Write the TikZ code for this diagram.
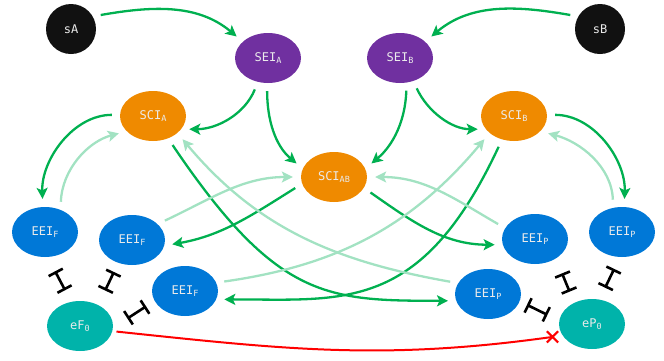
\documentclass[tikz,border=0pt]{standalone}
\usepackage{fontspec}
\setmonofont{DejaVu Sans Mono}
\usetikzlibrary{shapes.geometric,shapes.misc,arrows.meta}

\definecolor{srcblack}{HTML}{111111}
\definecolor{seipurple}{HTML}{7030A0}
\definecolor{sciorange}{HTML}{EF8A00}
\definecolor{eeiblue}{HTML}{0078D7}
\definecolor{eteal}{HTML}{00B3AA}
\definecolor{actgreen}{HTML}{00B050}
\definecolor{fbgreen}{HTML}{A2E2C2}
\definecolor{lbltext}{HTML}{EBEBEB}

\newcommand{\lsub}[1]{\raisebox{-2pt}{\fontsize{8.5}{9}\selectfont #1}}

\tikzstyle{blob} = [inner sep=0pt,text=lbltext,font=\ttfamily\fontsize{12}{14}\selectfont]
\tikzstyle{srcnode} = [blob,circle,fill=srcblack,minimum size=50pt]
\tikzstyle{seinode} = [blob,ellipse,fill=seipurple,minimum width=66pt,minimum height=50pt]
\tikzstyle{scinode} = [seinode,fill=sciorange]
\tikzstyle{eeinode} = [seinode,fill=eeiblue]
\tikzstyle{basenode} = [seinode,fill=eteal]
\tikzstyle{act} = [draw=actgreen,line width=2.3pt,-{Stealth[length=11pt,width=11pt,inset=2.5pt]},shorten <=8pt,shorten >=8pt]
\tikzstyle{feedback} = [act,draw=fbgreen]
\tikzstyle{inhib} = [draw=black,line width=2.6pt,{Bar[width=16pt]}-{Bar[width=16pt]}]
\tikzstyle{blockline} = [draw=red,line width=2pt]
\tikzstyle{xmark} = [cross out,draw=red,line width=2.2pt,minimum size=9pt,inner sep=0pt]

\begin{document}
\begin{tikzpicture}[x=1pt,y=1pt]
  \useasboundingbox (0,0) rectangle (664,-360);

  \node[srcnode] (sA) at (71,-29) {sA};
  \node[srcnode] (sB) at (600,-29) {sB};
  \node[seinode] (seiA) at (268,-58) {SEI\lsub{A}};
  \node[seinode] (seiB) at (400,-58) {SEI\lsub{B}};
  \node[scinode] (sciA) at (153,-116) {SCI\lsub{A}};
  \node[scinode] (sciB) at (514,-116) {SCI\lsub{B}};
  \node[scinode] (sciAB) at (334,-177) {SCI\lsub{AB}};
  \node[eeinode] (eeiF1) at (45,-232) {EEI\lsub{F}};
  \node[eeinode] (eeiF2) at (132,-240) {EEI\lsub{F}};
  \node[eeinode] (eeiF3) at (185,-291) {EEI\lsub{F}};
  \node[eeinode] (eeiP1) at (622,-232) {EEI\lsub{P}};
  \node[eeinode] (eeiP2) at (535,-239) {EEI\lsub{P}};
  \node[eeinode] (eeiP3) at (488,-294) {EEI\lsub{P}};
  \node[basenode] (eF0) at (80,-326) {eF\lsub{0}};
  \node[basenode] (eP0) at (592,-324) {eP\lsub{0}};

  \draw[act] (sA.30) to[out=10,in=140] (seiA.147);
  \draw[act] (sB.150) to[out=170,in=40] (seiB.33);
  \draw[act] (seiA.247) to[out=-112,in=0] (sciA.-25);
  \draw[act] (seiA.268) to[out=-90,in=140] (sciAB.165);
  \draw[act] (seiB.285) to[out=-92,in=40] (sciAB.15);
  \draw[act] (seiB.300) to[out=-65,in=180] (sciB.205);
  \draw[act] (sciA.178) to[out=180,in=92] (eeiF1.95);
  \draw[act] (sciB.2) to[out=0,in=88] (eeiP1.85);
  \draw[act] (sciAB.192) to[out=212,in=10] (eeiF2.-10);
  \draw[act] (sciAB.-20) to[out=-35,in=180] (eeiP2.190);
  \draw[act] (sciA.-56) to[out=-56,in=180,out looseness=1.5] (eeiP3.192);
  \draw[act] (sciB.243) to[out=-115,in=0,out looseness=1.5] (eeiF3.-15);

  \draw[feedback] (eeiF1.55) to[out=88,in=195] (sciA.210);
  \draw[feedback] (eeiP1.110) to[out=92,in=-15] (sciB.-30);
  \draw[feedback] (eeiF2.32) to[out=25,in=180] (sciAB.180);
  \draw[feedback] (eeiP2.160) to[out=150,in=0] (sciAB.0);
  \draw[feedback] (eeiF3.15) to[out=8,in=230] (sciB.215);
  \draw[feedback] (eeiP3.160) to[out=170,in=-50] (sciA.-35);

  \draw[inhib,shorten <=16pt,shorten >=13pt] (eeiF1.-84) -- (eF0.110);
  \draw[inhib,shorten <=10pt,shorten >=16pt] (eeiF2.239) -- (eF0.49);
  \draw[inhib,shorten <=10pt,shorten >=17pt] (eeiF3.198) -- (eF0.-3);
  \draw[inhib,shorten <=13pt,shorten >=13pt] (eeiP1.265) -- (eP0.73);
  \draw[inhib,shorten <=16pt,shorten >=12pt] (eeiP2.-43) -- (eP0.130);
  \draw[inhib,shorten <=8pt,shorten >=13pt] (eeiP3.-13) -- (eP0.174);

  \coordinate (redEnd) at ([xshift=-9pt,yshift=-3pt]eP0.198);
  \draw[blockline,shorten <=4pt] (eF0.-9) to[out=-6,in=188] (redEnd);
  \node[xmark] (xm) at (redEnd) {};
\end{tikzpicture}
\end{document}
